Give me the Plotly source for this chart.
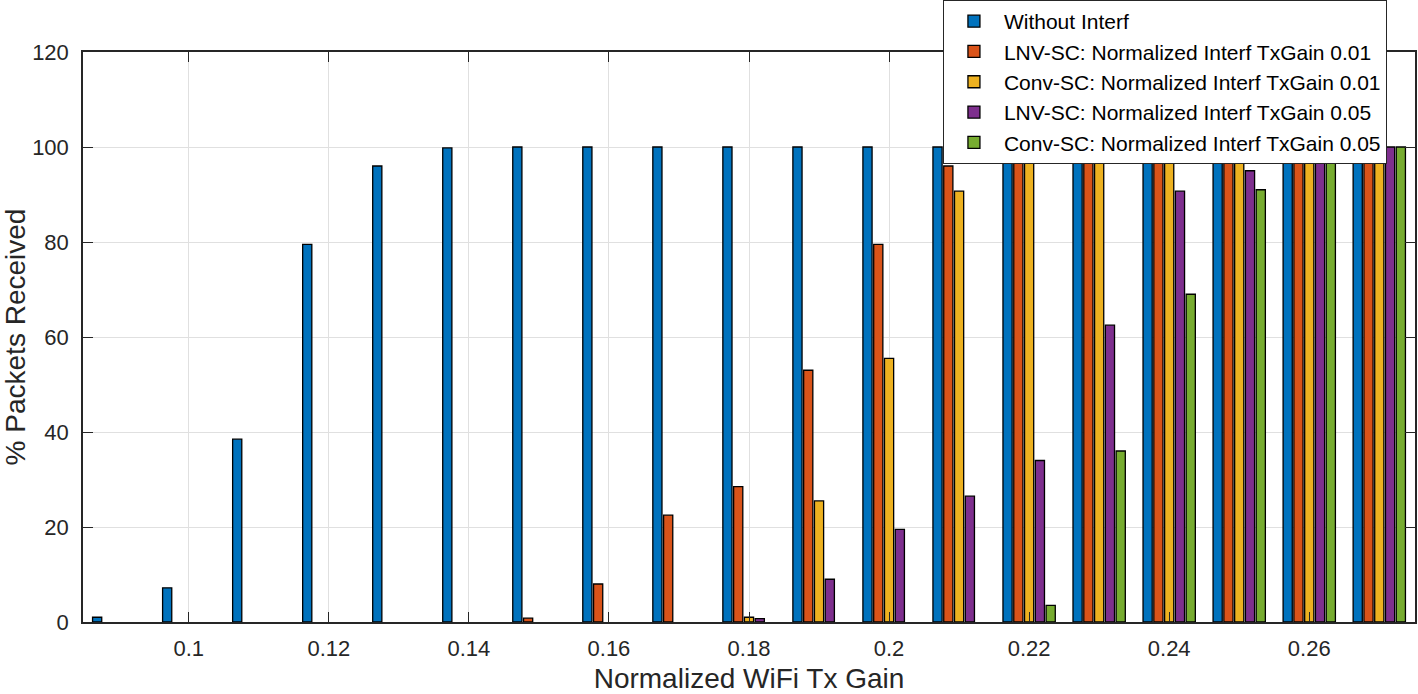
import plotly.graph_objects as go

tx_gain = [0.09, 0.10, 0.11, 0.12, 0.13, 0.14, 0.15, 0.16, 0.17, 0.18,
           0.19, 0.20, 0.21, 0.22, 0.23, 0.24, 0.25, 0.26, 0.27]

without_interf = [1.0, 7.2, 38.5, 79.5, 96.0, 99.8, 100, 100, 100, 100,
                  100, 100, 100, 100, 100, 100, 100, 100, 100]
lnv_001 = [0, 0, 0, 0, 0, 0, 0.8, 8.0, 22.5, 28.5,
           53.0, 79.5, 96.0, 100, 100, 100, 100, 100, 100]
conv_001 = [0, 0, 0, 0, 0, 0, 0, 0, 0, 1.0,
            25.5, 55.5, 90.7, 100, 100, 100, 100, 100, 100]
lnv_005 = [0, 0, 0, 0, 0, 0, 0, 0, 0, 0.7,
           9.0, 19.5, 26.5, 34.0, 62.5, 90.7, 95.0, 100, 100]
conv_005 = [0, 0, 0, 0, 0, 0, 0, 0, 0, 0,
            0, 0, 0, 3.5, 36.0, 69.0, 91.0, 100, 100]

series_names = ["Without Interf",
                "LNV-SC: Normalized Interf TxGain 0.01",
                "Conv-SC: Normalized Interf TxGain 0.01",
                "LNV-SC: Normalized Interf TxGain 0.05",
                "Conv-SC: Normalized Interf TxGain 0.05"]
series_values = [without_interf, lnv_001, conv_001, lnv_005, conv_005]
series_colors = ["#0072BD", "#D95319", "#EDB120", "#7E2F8E", "#77AC30"]

x_ticks = [0.10, 0.12, 0.14, 0.16, 0.18, 0.20, 0.22, 0.24, 0.26]
x_tick_text = ["0.1", "0.12", "0.14", "0.16", "0.18", "0.2", "0.22", "0.24", "0.26"]
y_ticks = [0, 20, 40, 60, 80, 100, 120]

fig = go.Figure()
for name, vals, col in zip(series_names, series_values, series_colors):
    # zero-height bars are not visible in the reference
    shown = [v if v > 0 else None for v in vals]
    fig.add_trace(go.Bar(
        x=tx_gain, y=shown, name=name,
        marker=dict(color=col, line=dict(color="#000000", width=1.3)),
    ))

axis_col = "#262626"
fig.update_layout(
    width=1418, height=694,
    margin=dict(l=83, r=3, t=52, b=72, autoexpand=False),
    paper_bgcolor="white", plot_bgcolor="white",
    barmode="group", bargap=0.23, bargroupgap=0.15,
    font=dict(family="Liberation Sans, Arial, Helvetica, sans-serif", size=22, color=axis_col),
    showlegend=True,
    legend=dict(
        x=0.6456, y=1.0912, xanchor="left", yanchor="top",
        bgcolor="white", bordercolor="#262626", borderwidth=1,
        font=dict(size=21, color="#000000"),
        tracegroupgap=0, itemwidth=50,
    ),
    xaxis=dict(
        range=[0.0849, 0.2751],
        tickmode="array", tickvals=x_ticks, ticktext=x_tick_text,
        ticks="inside", ticklen=10, tickwidth=1.2, tickcolor=axis_col,
        showline=True, linecolor=axis_col, linewidth=1.5, mirror="ticks",
        showgrid=True, gridcolor="#e0e0e0", gridwidth=1.3,
        zeroline=False,
        tickfont=dict(size=22, color=axis_col),
        ticklabelstandoff=6,
        title=dict(text="Normalized WiFi Tx Gain", font=dict(size=28, color=axis_col), standoff=11),
    ),
    yaxis=dict(
        range=[0, 120],
        tickmode="array", tickvals=y_ticks,
        ticks="inside", ticklen=10, tickwidth=1.2, tickcolor=axis_col,
        showline=True, linecolor=axis_col, linewidth=1.5, mirror="ticks",
        showgrid=True, gridcolor="#e0e0e0", gridwidth=1.3,
        zeroline=False,
        tickfont=dict(size=22, color=axis_col),
        ticklabelstandoff=8,
        title=dict(text="% Packets Received", font=dict(size=28, color=axis_col), standoff=10),
    ),
)

fig.write_html("out.html",
               config={"displayModeBar": False},
               post_script="document.body.style.margin='0';document.body.style.padding='0';")
